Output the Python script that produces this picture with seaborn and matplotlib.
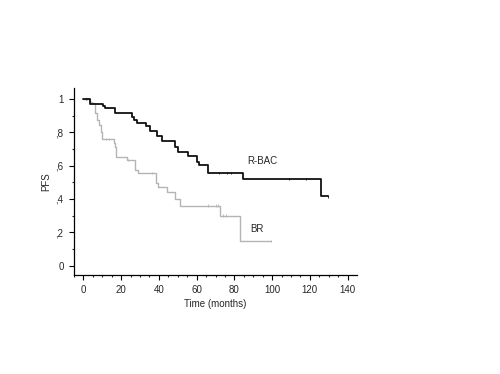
import matplotlib
matplotlib.use("Agg")
import matplotlib.pyplot as plt
import seaborn as sns
import pandas as pd
import numpy as np

# step curves: time of each drop and PFS after it
rbac_time = [0, 3.5, 10.5, 11.5, 16.5, 25.5, 27, 28.5, 33, 35.5, 39, 41.5,
             48.5, 50, 55.5, 60, 61.5, 66, 84.5, 126, 129.5]
rbac_pfs = [1.0, 0.972, 0.955, 0.946, 0.918, 0.89, 0.874, 0.858, 0.836, 0.806,
            0.78, 0.745, 0.71, 0.68, 0.655, 0.624, 0.604, 0.554, 0.518, 0.415, 0.415]
br_time = [0, 3.5, 4.3, 6.2, 7, 8.4, 9.2, 10.1, 16, 16.8, 17.5, 23, 27.2, 28.8,
           38.5, 39.5, 44.2, 48.5, 51, 72.3, 82.8, 99.6]
br_pfs = [1.0, 0.98, 0.974, 0.914, 0.874, 0.844, 0.80, 0.758, 0.734, 0.714,
          0.654, 0.634, 0.574, 0.554, 0.494, 0.474, 0.44, 0.40, 0.36, 0.30,
          0.148, 0.148]

# censored observations
rbac_cens_time = [1.5, 72, 76, 78, 109, 118, 129.5]
rbac_cens_pfs = [1.0, 0.554, 0.554, 0.554, 0.518, 0.518, 0.415]
br_cens_time = [2, 12, 13.5, 23.5, 36.5, 66, 70, 71.5, 74, 75.5, 99.6]
br_cens_pfs = [1.0, 0.758, 0.758, 0.634, 0.554, 0.36, 0.36, 0.36, 0.30, 0.30, 0.148]

x_ticks = [0, 20, 40, 60, 80, 100, 120, 140]
y_ticks = [0, 0.2, 0.4, 0.6, 0.8, 1.0]
y_tick_labels = ["0", ",2", ",4", ",6", ",8", "1"]

sns.set_style("ticks")
plt.rcParams["font.family"] = ["Liberation Sans", "DejaVu Sans"]

curves = pd.DataFrame({
    "time": rbac_time + br_time,
    "pfs": rbac_pfs + br_pfs,
    "arm": ["R-BAC"] * len(rbac_time) + ["BR"] * len(br_time),
})
cens = pd.DataFrame({
    "time": rbac_cens_time + br_cens_time,
    "pfs": rbac_cens_pfs + br_cens_pfs,
    "arm": ["R-BAC"] * len(rbac_cens_time) + ["BR"] * len(br_cens_time),
})
colors = {"R-BAC": "#111111", "BR": "#b4b4b4"}

fig = plt.figure(figsize=(5, 3.74), dpi=100)
ax = fig.add_axes([0.148, 0.265, 0.566, 0.5])

sns.lineplot(data=curves[curves.arm == "BR"], x="time", y="pfs", color=colors["BR"],
             drawstyle="steps-post", estimator=None, sort=False, lw=1.0, ax=ax)
sns.lineplot(data=curves[curves.arm == "R-BAC"], x="time", y="pfs", color=colors["R-BAC"],
             drawstyle="steps-post", estimator=None, sort=False, lw=1.3, ax=ax)
sns.scatterplot(data=cens, x="time", y="pfs", hue="arm", palette=colors, marker="|",
                s=3, linewidth=0.6, legend=False, ax=ax)

ax.set_xlim(-5, 145)
ax.set_ylim(-0.056, 1.066)
ax.set_xticks(x_ticks)
ax.set_xticks(np.arange(-5, 145, 5), minor=True)
ax.set_yticks(y_ticks)
ax.set_yticklabels(y_tick_labels)
ax.set_yticks(np.arange(0.1, 1.0, 0.2), minor=True)
ax.tick_params(labelsize=7, length=3.5, width=0.8, pad=4, color="black")
ax.tick_params(which="minor", length=1.5, width=0.8)
for s in ["top", "right"]:
    ax.spines[s].set_visible(False)
for s in ["left", "bottom"]:
    ax.spines[s].set_linewidth(0.9)
    ax.spines[s].set_color("black")

ax.set_xlabel("Time (months)", fontsize=7, labelpad=3)
ax.set_ylabel("PFS", fontsize=7, labelpad=3)
ax.text(95, 0.63, "R-BAC", fontsize=7, ha="center", va="center")
ax.text(92, 0.22, "BR", fontsize=7, ha="center", va="center")

fig.savefig("out.png", dpi=100, facecolor="white")
